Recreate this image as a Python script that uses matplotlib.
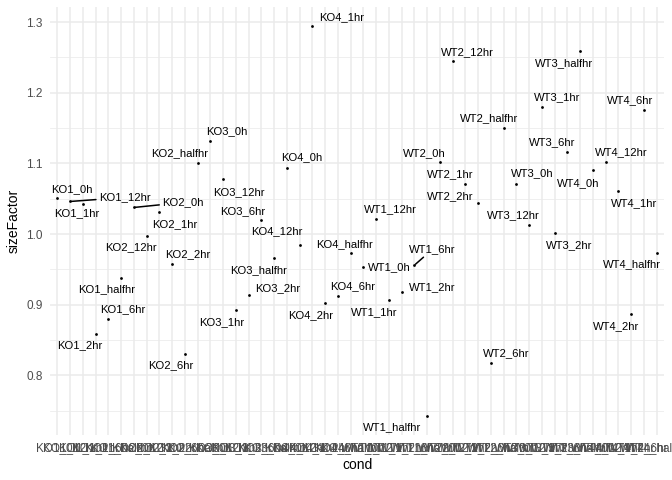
import matplotlib
matplotlib.use("Agg")
import matplotlib.pyplot as plt
import numpy as np

plt.rcParams["font.family"] = ["Liberation Sans", "DejaVu Sans"]

# samples in sorted (factor) order
cond = [
    "KO1_0h", "KO1_12hr", "KO1_1hr", "KO1_2hr", "KO1_6hr", "KO1_halfhr",
    "KO2_0h", "KO2_12hr", "KO2_1hr", "KO2_2hr", "KO2_6hr", "KO2_halfhr",
    "KO3_0h", "KO3_12hr", "KO3_1hr", "KO3_2hr", "KO3_6hr", "KO3_halfhr",
    "KO4_0h", "KO4_12hr", "KO4_1hr", "KO4_2hr", "KO4_6hr", "KO4_halfhr",
    "WT1_0h", "WT1_12hr", "WT1_1hr", "WT1_2hr", "WT1_6hr", "WT1_halfhr",
    "WT2_0h", "WT2_12hr", "WT2_1hr", "WT2_2hr", "WT2_6hr", "WT2_halfhr",
    "WT3_0h", "WT3_12hr", "WT3_1hr", "WT3_2hr", "WT3_6hr", "WT3_halfhr",
    "WT4_0h", "WT4_12hr", "WT4_1hr", "WT4_2hr", "WT4_6hr", "WT4_halfhr",
]

size_factor = [
    1.0505, 1.0462, 1.0429, 0.8585, 0.8797, 0.9382,
    1.0377, 0.9976, 1.0311, 0.9571, 0.8306, 1.1000,
    1.1316, 1.0774, 0.8920, 0.9132, 1.0193, 0.9656,
    1.0934, 0.9844, 1.2939, 0.9019, 0.9118, 0.9727,
    0.9528, 1.0212, 0.9066, 0.9175, 0.9561, 0.7429,
    1.1014, 1.2453, 1.0703, 1.0443, 0.8179, 1.1500,
    1.0712, 1.0132, 1.1802, 1.0010, 1.1156, 1.2590,
    1.0901, 1.1024, 1.0604, 0.8868, 1.1755, 0.9727,
]

# repel-style label offsets (pixels, x right / y up), as placed in the original
label_offsets = {
    "KO1_0h": (14.7, 9.6), "KO1_12hr": (54.4, 4), "KO1_1hr": (-6.6, -9.6),
    "KO1_2hr": (-15.4, -11), "KO1_6hr": (14.7, 9.7), "KO1_halfhr": (-14.7, -11.6),
    "KO2_0h": (48.9, 5), "KO2_12hr": (-15.5, -11), "KO2_1hr": (15.7, -12),
    "KO2_2hr": (15.9, 10.3), "KO2_6hr": (-14.5, -11.3), "KO2_halfhr": (-17.8, 10),
    "KO3_0h": (16, 10.3), "KO3_12hr": (15.3, -12.4), "KO3_1hr": (-14.6, -11.4),
    "KO3_2hr": (28.6, 7.6), "KO3_6hr": (-18.8, 9.3), "KO3_halfhr": (-15.3, -11.7),
    "KO4_0h": (14.9, 10.7), "KO4_12hr": (-22.9, 14), "KO4_1hr": (29.2, 9.6),
    "KO4_2hr": (-14.8, -11.7), "KO4_6hr": (14.7, 10.3), "KO4_halfhr": (-6.6, 9),
    "WT1_0h": (26.2, 0), "WT1_12hr": (14.5, 9.7), "WT1_1hr": (-15.2, -11.7),
    "WT1_2hr": (30.1, 5), "WT1_6hr": (17.9, 15.7), "WT1_halfhr": (-35.6, -11.6),
    "WT2_0h": (-15.3, 9), "WT2_12hr": (15, 9), "WT2_1hr": (-15, 10),
    "WT2_2hr": (-28.3, 7), "WT2_6hr": (15.2, 10), "WT2_halfhr": (-15, 9.7),
    "WT3_0h": (15.9, 10.4), "WT3_12hr": (-15.8, 9.7), "WT3_1hr": (15, 9.4),
    "WT3_2hr": (14.5, -11.7), "WT3_6hr": (-15.7, 10.3), "WT3_halfhr": (-16.1, -12.3),
    "WT4_0h": (-14.3, -12.4), "WT4_12hr": (15.5, 9.4), "WT4_1hr": (15.5, -11.4),
    "WT4_2hr": (-15.5, -12), "WT4_6hr": (-13.5, 10), "WT4_halfhr": (-25, -10.7),
}
with_segment = {"KO1_12hr", "KO2_0h", "WT1_6hr"}

fig = plt.figure(figsize=(6.72, 4.8), dpi=100)
ax = fig.add_axes([0.074, 0.0933, 0.9147, 0.8921])

x = np.arange(len(cond))
ax.scatter(x, size_factor, s=4, color="black", linewidths=0, zorder=3)

for i, name in enumerate(cond):
    dx, dy = label_offsets[name]
    arrow = None
    if name in with_segment:
        arrow = dict(arrowstyle="-", color="black", lw=1.1, shrinkA=0, shrinkB=1)
    ax.annotate(name, (x[i], size_factor[i]), xytext=(dx, dy),
                textcoords="offset pixels", ha="center", va="center",
                fontsize=8.1, color="black", arrowprops=arrow, zorder=4)

lo, hi = min(size_factor), max(size_factor)
pad = (hi - lo) * 0.05
ax.set_ylim(lo - pad, hi + pad)
ax.set_xlim(-0.6, len(cond) - 0.4)

ax.set_xticks(x)
ax.set_xticklabels(cond)
ax.set_yticks([0.8, 0.9, 1.0, 1.1, 1.2, 1.3])
ax.set_yticks(np.arange(0.75, 1.31, 0.1), minor=True)
ax.tick_params(axis="both", which="both", length=0, labelsize=8.45,
               labelcolor="#4D4D4D")
ax.tick_params(axis="x", pad=4.7)
ax.tick_params(axis="y", pad=5.2)
for lab in ax.get_xticklabels():
    lab.set_clip_on(False)

ax.grid(True, which="major", color="#EBEBEB", linewidth=1.1)
ax.grid(True, which="minor", axis="y", color="#EBEBEB", linewidth=0.55)
ax.set_axisbelow(True)
for sp in ax.spines.values():
    sp.set_visible(False)

ax.set_xlabel("cond", fontsize=10, labelpad=3)
ax.set_ylabel("sizeFactor", fontsize=10, labelpad=4)

fig.savefig("out.png", dpi=100)
